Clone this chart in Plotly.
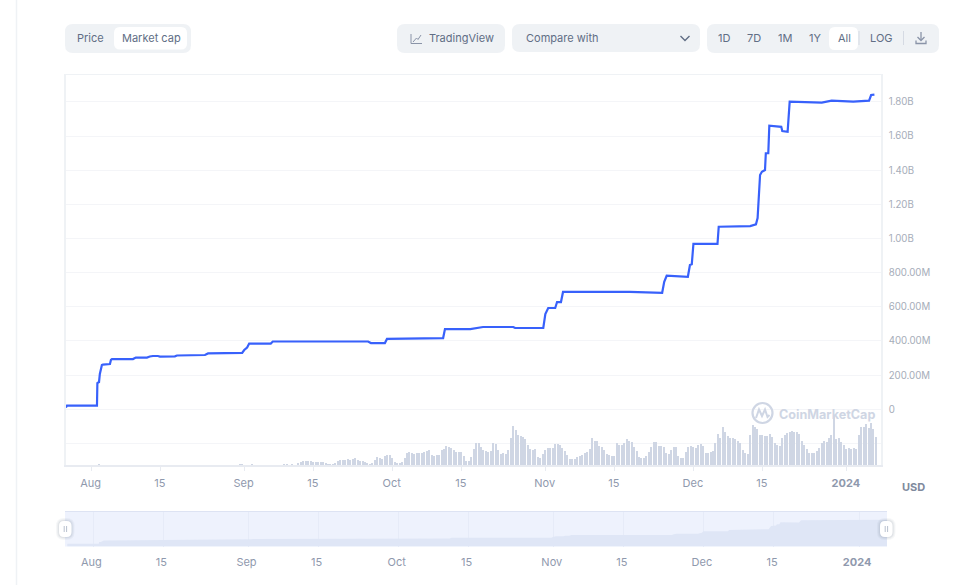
import plotly.graph_objects as go
import pandas as pd

W, H = 970, 585

line_dates = ["2023-07-26 19:00","2023-07-27 00:00","2023-08-02 02:00","2023-08-02 04:00","2023-08-02 12:00","2023-08-02 16:00",
"2023-08-03 02:00","2023-08-03 07:00","2023-08-04 17:00","2023-08-04 22:00","2023-08-05 03:00","2023-08-09 09:00","2023-08-09 23:00",
"2023-08-12 05:00","2023-08-12 19:00","2023-08-13 10:00","2023-08-14 10:00","2023-08-14 20:00","2023-08-17 21:00","2023-08-18 07:00",
"2023-08-23 23:00","2023-08-24 14:00","2023-08-31 12:00","2023-08-31 22:00","2023-09-01 12:00","2023-09-01 22:00","2023-09-06 07:00",
"2023-09-06 17:00","2023-09-26 00:00","2023-09-26 14:00","2023-09-29 10:00","2023-09-29 20:00","2023-10-11 05:00","2023-10-11 14:00",
"2023-10-16 17:00","2023-10-19 07:00","2023-10-25 10:00","2023-10-25 19:00","2023-10-31 12:00","2023-10-31 22:00","2023-11-01 12:00",
"2023-11-02 22:00","2023-11-03 07:00","2023-11-04 02:00","2023-11-04 12:00","2023-11-18 00:00","2023-11-24 14:00","2023-11-25 00:00",
"2023-11-25 12:00","2023-11-29 19:00","2023-11-30 05:00","2023-11-30 14:00","2023-11-30 22:00","2023-12-05 19:00","2023-12-06 01:00",
"2023-12-12 10:00","2023-12-13 14:00","2023-12-13 22:00","2023-12-14 10:00","2023-12-14 19:00","2023-12-15 10:00","2023-12-15 14:00",
"2023-12-16 02:00","2023-12-16 07:00","2023-12-18 17:00","2023-12-18 22:00","2023-12-20 00:00","2023-12-20 10:00","2023-12-26 22:00",
"2023-12-28 22:00","2024-01-02 07:00","2024-01-05 12:00","2024-01-05 22:00","2024-01-06 14:00"]
market_cap_m = [10,22,22,154,160,207,259,262,265,289,294,294,303,303,309,312,312,309,310,315,318,327,330,347,362,385,385,397,397,388,
388,412,417,470,470,482,482,476,476,558,593,593,628,628,687,687,682,747,782,776,845,849,968,968,1069,1073,1083,1120,1372,1391,1401,
1499,1499,1660,1654,1629,1625,1801,1795,1807,1801,1807,1840,1842]

early_volume_dates = ["2023-08-02 12:00","2023-08-31 00:00","2023-08-31 12:00","2023-09-02 12:00","2023-09-09 00:00","2023-09-09 12:00","2023-09-10 12:00"]
early_volume = [1,1,1,1,1,1,1]
volume_start = "2023-09-11 20:00"
volume = [2,3,4.5,4.5,4,4,3.5,3.5,3.5,3.5,
3,2,1,1,1,2,4,5,5.5,5.5,
6,5.5,6,7,5.5,4.5,4.5,3,2,1,
2,5,8,7,6,9,10,10,7,3,
2,2,3,7,12,13,12,11,12,12,
12,13,14,15,10,9,10,10,15,16,
19,18,17,15,13,13,13,9,4,4,
8,16,22,22,18,15,14,13,14,22,
21,15,11,12,11,15,27,39,35,30,
29,28,26,20,16,15,16,8,7,11,
15,17,17,17,21,21,20,17,14,10,
6,6,6,8,9,10,12,13,16,27,
24,24,19,18,15,11,10,9,9,22,
20,20,22,26,24,23,18,14,8,7,
7,9,13,18,23,23,19,19,18,12,
11,15,18,18,9,7,7,13,18,19,
18,17,20,21,19,12,12,13,14,22,
31,27,38,33,29,27,27,26,24,22,
15,12,11,30,40,38,36,30,30,29,
29,31,28,22,20,19,27,30,32,33,
34,33,33,31,24,20,16,12,12,12,
14,17,22,24,23,27,30,50,26,27,
23,20,16,17,16,17,16,30,38,38,
41,37,42,36,28]

y_tick_vals = [-200,0,200,400,600,800,1000,1200,1400,1600,1800]
y_tick_text = ["","0","200.00M","400.00M","600.00M","800.00M","1.00B","1.20B","1.40B","1.60B","1.80B"]
main_ticks = ["2023-08-01","2023-08-15","2023-09-01","2023-09-15","2023-10-01","2023-10-15","2023-11-01","2023-11-15","2023-12-01","2023-12-15","2024-01-01"]
tick_labels = ["Aug","15","Sep","15","Oct","15","Nov","15","Dec","15","<b>2024</b>"]
nav_floor = [-190,-190]

vol_dates = list(pd.to_datetime(early_volume_dates)) + list(pd.date_range(volume_start, periods=len(volume), freq="12h"))
vol_vals = early_volume + volume

fx = lambda x: x / W
fy = lambda y: 1 - y / H
LINE = "#3861fb"; BTN = "#eff2f5"; TXT = "#616e85"; AX = "#a6adb9"; GRID = "#f4f5f8"; BORDER = "#e8ebf1"; BAR = "#cfd6e4"

fig = go.Figure()
fig.add_trace(go.Bar(x=vol_dates, y=vol_vals, xaxis="x", yaxis="y2", width=12*3600*1000*0.6,
                     marker=dict(color=BAR, line=dict(width=0)), hoverinfo="skip"))
fig.add_trace(go.Scatter(x=line_dates, y=market_cap_m, xaxis="x", yaxis="y", mode="lines",
                         line=dict(color=LINE, width=2.2), hoverinfo="skip"))
fig.add_trace(go.Scatter(x=[line_dates[0], line_dates[-1]], y=nav_floor, xaxis="x2", yaxis="y3", mode="lines",
                         line=dict(width=0), hoverinfo="skip"))
fig.add_trace(go.Scatter(x=line_dates, y=market_cap_m, xaxis="x2", yaxis="y3", mode="lines", fill="tonexty",
                         fillcolor="#dfe6f6", line=dict(width=0), hoverinfo="skip"))

shapes, ann = [], []

def rrect(x0, y0, x1, y1, r, fill, layer="below", opacity=1):
    p = (f"M {fx(x0+r)},{fy(y0)} L {fx(x1-r)},{fy(y0)} Q {fx(x1)},{fy(y0)} {fx(x1)},{fy(y0+r)} "
         f"L {fx(x1)},{fy(y1-r)} Q {fx(x1)},{fy(y1)} {fx(x1-r)},{fy(y1)} L {fx(x0+r)},{fy(y1)} "
         f"Q {fx(x0)},{fy(y1)} {fx(x0)},{fy(y1-r)} L {fx(x0)},{fy(y0+r)} Q {fx(x0)},{fy(y0)} {fx(x0+r)},{fy(y0)} Z")
    shapes.append(dict(type="path", path=p, xref="paper", yref="paper", fillcolor=fill,
                       line=dict(width=0), layer=layer, opacity=opacity))

def poly(pts, color, width=1.2, layer="above"):
    p = "M " + " L ".join(f"{fx(x)},{fy(y)}" for x, y in pts)
    shapes.append(dict(type="path", path=p, xref="paper", yref="paper", line=dict(color=color, width=width), layer=layer))

def label(x, y, text, size=11, color=TXT, anchor="center"):
    ann.append(dict(x=fx(x), y=fy(y), xref="paper", yref="paper", text=text, showarrow=False, xanchor=anchor,
                    yanchor="middle", font=dict(family="Inter", size=size, color=color),
                    xshift=-2 if anchor == "left" else 0, yshift=0))

# page rule
poly([(16.5, 0), (16.5, 585)], BTN, 1.5, "below")

# chart frame top
poly([(65.5, 74.5), (881, 74.5)], BTN, 1, "below")

# controls
rrect(65, 24, 191, 53, 8, BTN)
rrect(114, 27, 187, 49.5, 6, "#ffffff")
label(90.5, 38.5, "Price"); label(151, 38.5, "Market cap")
rrect(397, 24, 505, 53, 8, BTN)
poly([(411, 34), (411, 43.5), (422, 43.5)], "#8a94a8", 1)
poly([(413, 42), (416.5, 38), (418, 39.5), (421, 35)], "#8a94a8", 1)
label(429, 38.5, "TradingView", anchor="left")
rrect(512, 24, 700, 52, 8, BTN)
label(526, 38.5, "Compare with", anchor="left")
poly([(680.5, 36), (685, 40.5), (689.5, 36)], TXT, 1.4)
rrect(707, 24, 939, 53, 8, BTN)
rrect(829, 27, 858, 50, 6, "#ffffff")
for xc, t in [(724, "1D"), (754, "7D"), (785, "1M"), (815, "1Y"), (844, "All"), (881, "LOG")]:
    label(xc, 38.5, t)
poly([(859, 31), (859, 45)], "#d5dae3", 1)
poly([(903.5, 31), (903.5, 45)], "#d5dae3", 1)
poly([(921, 32), (921, 40)], "#8a94a8", 1.3)
poly([(917.5, 37), (921, 40.5), (924.5, 37)], "#8a94a8", 1.3)
poly([(916, 40.5), (916, 43.5), (926, 43.5), (926, 40.5)], "#8a94a8", 1.3)

# watermark
shapes.append(dict(type="circle", xref="paper", yref="paper", x0=fx(752.5), x1=fx(772.5), y0=fy(423), y1=fy(403),
                   line=dict(color=BAR, width=2.2), layer="above"))
poly([(756, 418), (759, 409.5), (762, 416), (765, 409.5), (767.5, 417), (769.5, 415)], BAR, 2)
label(779, 414, "<b>CoinMarketCap</b>", 12.6, BAR, "left")

label(913, 487, "<b>USD</b>", 11, "#808a9d")

# navigator handles
for hx in (59, 880):
    for grow, op in ((3, .05), (2, .06), (1, .08)):
        rrect(hx-grow, 521-grow, hx+12.5+grow, 537+grow, 5+grow, "#58667e", "above", op)
    rrect(hx, 521, hx+12.5, 537, 5, "#ffffff", "above")
    poly([(hx+5.2, 526), (hx+5.2, 532)], "#b8c0ce", 1)
    poly([(hx+7.6, 526), (hx+7.6, 532)], "#b8c0ce", 1)

fig.update_layout(
    width=W, height=H, autosize=False, showlegend=False, margin=dict(l=0, r=0, t=0, b=0),
    paper_bgcolor="#ffffff", plot_bgcolor="rgba(0,0,0,0)", barmode="overlay", bargap=0,
    font=dict(family="Inter"), shapes=shapes, annotations=ann,
    xaxis=dict(domain=[fx(65.5), fx(881)], anchor="y", type="date",
               range=["2023-07-26 17:00", "2024-01-07 22:00"], tickmode="array", tickvals=main_ticks, ticktext=tick_labels,
               ticks="outside", ticklen=4, tickcolor=BORDER, tickwidth=1, ticklabelstandoff=3, ticklabelshift=-1,
               showgrid=False, showline=True, linecolor=BORDER, linewidth=2,
               tickfont=dict(family="Inter", size=11, color="#8f99ad"), fixedrange=True),
    yaxis=dict(domain=[fy(465), fy(74)], anchor="x", side="right", range=[-326, 1963], tickmode="array",
               tickvals=y_tick_vals, ticktext=y_tick_text, showgrid=True, gridcolor=GRID, gridwidth=1, zeroline=False,
               showline=True, linecolor=BTN, linewidth=1.5, mirror=True, ticks="", ticklabelstandoff=4,
               tickfont=dict(family="Inter", size=9.7, color=AX), fixedrange=True),
    yaxis2=dict(domain=[fy(465), fy(74)], anchor="x", overlaying="y", range=[0, 391], visible=False, fixedrange=True),
    xaxis2=dict(domain=[fx(65), fx(887)], anchor="y3", type="date",
                range=["2023-07-26 08:00", "2024-01-06 14:00"], tickmode="array", tickvals=main_ticks, ticktext=tick_labels,
                ticks="", ticklabelstandoff=7, ticklabelshift=-2, showgrid=True, gridcolor="#e6ebf8", gridwidth=1,
                showline=False, zeroline=False, tickfont=dict(family="Inter", size=11, color="#8f99ad"), fixedrange=True),
    yaxis3=dict(domain=[fy(546.5), fy(511.5)], anchor="x2", range=[-190, 2470], visible=False, fixedrange=True),
)
fig.add_shape(type="rect", xref="paper", yref="paper", x0=fx(65), x1=fx(887), y0=fy(546.5), y1=fy(511.5),
              fillcolor="#eef2fd", line=dict(width=0), layer="below")
fig.add_shape(type="line", xref="paper", yref="paper", x0=fx(65), x1=fx(887), y0=fy(511.5), y1=fy(511.5),
              line=dict(color="#dde3f3", width=1), layer="below")

fig.write_html("out.html", config=dict(displayModeBar=False),
               post_script="document.body.style.margin='0';document.body.style.overflow='hidden';")
